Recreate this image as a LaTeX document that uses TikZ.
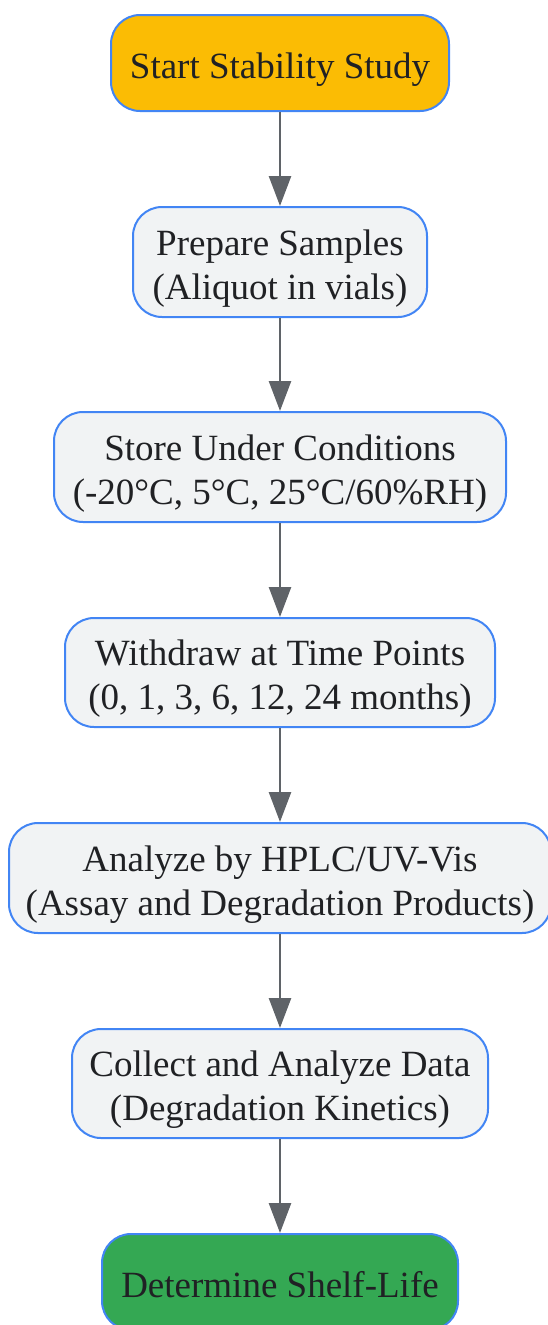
\documentclass[tikz,border=0pt]{standalone}
\usepackage{fontspec}
\setmainfont{Liberation Serif}
\usetikzlibrary{arrows.meta}
\definecolor{bordblue}{HTML}{4285F4}
\definecolor{boxfill}{HTML}{F1F3F4}
\definecolor{startyellow}{HTML}{FBBC04}
\definecolor{endgreen}{HTML}{34A853}
\definecolor{arrowgray}{HTML}{5F6368}
\definecolor{txt}{HTML}{202124}
\newcommand{\mytop}{\rule{0pt}{38.5pt}}
\newcommand{\mybot}{\rule[-8.5pt]{0pt}{8.5pt}}
\tikzset{
  stepbox/.style={draw=bordblue, line width=2pt, fill=boxfill, rounded corners=29pt,
    align=center, inner sep=0pt, text=txt,
    font=\fontsize{37}{44}\selectfont},
  flow/.style={draw=arrowgray, line width=2.6pt, -{Triangle[length=30pt,width=22pt]}}
}
\begin{document}
\begin{tikzpicture}[x=1pt,y=1pt]
\useasboundingbox (0,0) rectangle (547,-1325);
\node[stepbox, fill=startyellow, minimum width=338pt, minimum height=96pt] (n1) at (280,-63) {\mytop Start Stability Study\mybot};
\node[stepbox, minimum width=294pt, minimum height=110pt] (n2) at (280,-262) {\mytop Prepare Samples\\(Aliquot in vials)\mybot};
\node[stepbox, minimum width=452pt, minimum height=110pt] (n3) at (280,-467) {\mytop Store Under Conditions\\(-20°C, 5°C, 25°C/60\%RH)\mybot};
\node[stepbox, minimum width=430pt, minimum height=109pt] (n4) at (280,-672.5) {\mytop Withdraw at Time Points\\(0, 1, 3, 6, 12, 24 months)\mybot};
\node[stepbox, minimum width=542pt, minimum height=110pt] (n5) at (280,-878) {\mytop Analyze by HPLC/UV-Vis\\(Assay and Degradation Products)\mybot};
\node[stepbox, minimum width=416pt, minimum height=109pt] (n6) at (280,-1083.5) {\mytop Collect and Analyze Data\\(Degradation Kinetics)\mybot};
\node[stepbox, fill=endgreen, minimum width=356pt, minimum height=96pt] (n7) at (280,-1282) {\mytop Determine Shelf-Life\mybot};
\draw[flow] (n1) -- (n2);
\draw[flow] (n2) -- (n3);
\draw[flow] (n3) -- (n4);
\draw[flow] (n4) -- (n5);
\draw[flow] (n5) -- (n6);
\draw[flow] (n6) -- (n7);
\end{tikzpicture}
\end{document}
